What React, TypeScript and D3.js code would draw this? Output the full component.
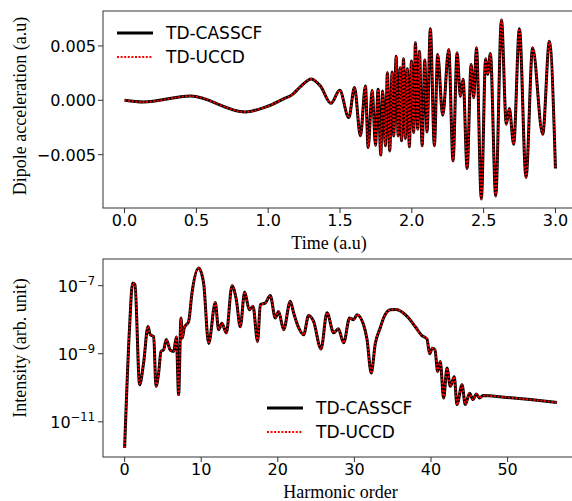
import React from 'react';
import * as d3 from 'd3';

// upper panel: dipole acceleration vs time
const timeAu = [0, 0.13, 0.46, 0.84, 0.99, 1.10, 1.17, 1.225, 1.30, 1.364, 1.437, 1.498, 1.561, 1.601, 1.642, 1.677, 1.696, 1.724, 1.747, 1.765, 1.784, 1.797, 1.816, 1.830, 1.846, 1.863, 1.874, 1.891, 1.905, 1.919, 1.928, 1.942, 1.955, 1.969, 1.983, 1.997, 2.013, 2.025, 2.041, 2.053, 2.072, 2.090, 2.106, 2.129, 2.157, 2.180, 2.215, 2.257, 2.287, 2.315, 2.338, 2.357, 2.385, 2.413, 2.431, 2.450, 2.484, 2.514, 2.528, 2.547, 2.584, 2.624, 2.658, 2.679, 2.709, 2.749, 2.795, 2.841, 2.911, 2.958, 3.0];
const casscfDipole = [0, -0.00016, 0.00039, -0.00107, -0.00058, 0.00009, 0.00055, 0.00126, 0.00197, 0.00131, -0.00028, 0.00092, -0.00159, 0.00117, -0.00326, 0.00131, -0.00434, 0.00092, -0.00413, 0.00101, -0.00502, 0.00085, -0.00419, 0.00254, -0.00465, 0.0026, -0.00328, 0.00406, -0.00328, 0.003, -0.00373, 0.00383, -0.00351, 0.00291, -0.00428, 0.00361, -0.00296, 0.00529, -0.00266, 0.00452, -0.00419, 0.0037, -0.00291, 0.00658, -0.00417, 0.00422, -0.00138, 0.00468, -0.00557, 0.00438, 0.00034, 0.00193, -0.00627, 0.0033, 0.00025, 0.00483, -0.00908, 0.00383, 0.00239, 0.00431, -0.0088, 0.00739, -0.0022, -0.00076, -0.00404, 0.00658, -0.00709, 0.00483, -0.00312, 0.00544, -0.00627];
// the two methods lie on top of each other in the figure
const uccdDipole = [...casscfDipole];

// lower panel: HHG spectrum
const harmonicOrder = [0, 0.65, 1.04, 1.35, 1.96, 2.48, 3.05, 3.35, 3.79, 4.1, 4.44, 4.75, 5.09, 5.44, 5.97, 6.4, 6.75, 7.05, 7.36, 7.53, 7.79, 8.36, 8.8, 9.66, 10.31, 10.97, 11.84, 12.27, 12.7, 13.28, 14.02, 14.58, 15.1, 15.67, 16.28, 16.76, 17.36, 17.72, 18.37, 19.02, 19.67, 20.1, 20.76, 21.63, 22.06, 22.72, 23.37, 24.02, 24.67, 25.64, 26.42, 27.3, 27.9, 28.6, 29.37, 29.9, 30.34, 31.2, 31.65, 32.2, 32.73, 33.38, 33.81, 34.69, 35.47, 36.34, 37.08, 37.95, 38.82, 39.48, 39.82, 40.17, 40.52, 40.87, 41.21, 41.65, 42.09, 42.52, 43.04, 43.39, 44.05, 44.48, 45.04, 45.48, 45.91, 46.35, 46.79, 49.92, 52.96, 56.45];
const casscfIntensity = [1.7e-12, 6.3e-9, 1.2e-7, 1.07e-7, 1.23e-10, 5.4e-10, 6.3e-9, 3.6e-9, 3.2e-9, 1.1e-10, 2.7e-10, 1.17e-9, 1.3e-9, 2.6e-9, 1.26e-9, 1.17e-9, 3.1e-9, 6.3e-11, 1.12e-8, 2.9e-9, 5.8e-9, 8.9e-9, 6.2e-8, 3.3e-7, 1.2e-7, 2.0e-9, 3.2e-8, 5.1e-9, 7.9e-9, 4.1e-9, 1.0e-7, 3.9e-8, 6.2e-9, 6.5e-8, 1.95e-8, 2.5e-8, 2.3e-9, 2.75e-8, 3.1e-8, 5.1e-8, 1.12e-8, 1.74e-8, 5.1e-9, 3.5e-8, 1.6e-8, 5.8e-9, 3.6e-9, 1.32e-8, 8.9e-9, 1.38e-9, 1.6e-8, 4.1e-9, 5.4e-9, 2.1e-9, 1.12e-8, 1.0e-8, 1.4e-8, 7.1e-9, 2.6e-9, 2.7e-10, 2.0e-9, 5.8e-9, 1.12e-8, 1.95e-8, 2.0e-8, 1.6e-8, 1.12e-8, 6.2e-9, 3.4e-9, 2.7e-9, 1.0e-9, 1.45e-9, 1.3e-9, 3.0e-10, 5.9e-10, 5.0e-11, 3.8e-10, 1.1e-10, 2.1e-10, 3.2e-11, 1.23e-10, 3.2e-11, 6.9e-11, 4.5e-11, 6.6e-11, 5.0e-11, 5.9e-11, 5.2e-11, 4.5e-11, 3.7e-11];
const uccdIntensity = [...casscfIntensity];

const timeTicks = [0, 0.5, 1.0, 1.5, 2.0, 2.5, 3.0];
const dipoleTicks = [-0.005, 0, 0.005];
const harmonicTicks = [0, 10, 20, 30, 40, 50];
const intensityExponents = [-7, -9, -11];
const seriesNames = ['TD-CASSCF', 'TD-UCCD'];

const SANS = 'DejaVu Sans, sans-serif';
const SERIF = 'Liberation Serif, Times New Roman, serif';

// matplotlib-style 5% margin
const pad = ([a, b]: number[], f = 0.05) => [a - (b - a) * f, b + (b - a) * f];
const padLog = ([a, b]: number[], f = 0.05) => {
  const la = Math.log10(a), lb = Math.log10(b);
  const m = (lb - la) * f;
  return [Math.pow(10, la - m), Math.pow(10, lb + m)];
};
const minus = (s: string) => s.replace('-', '\u2212');

export default function App() {
  // upper axes box
  const t = { l: 103, r: 577, top: 11, b: 208 };
  const x1 = d3.scaleLinear().domain(pad(d3.extent(timeAu) as number[])).range([t.l, t.r]);
  const y1 = d3.scaleLinear().domain(pad(d3.extent(casscfDipole) as number[])).range([t.b, t.top]);

  // lower axes box
  const bx = { l: 103, r: 578.6, top: 259, b: 457 };
  const x2 = d3.scaleLinear().domain(pad(d3.extent(harmonicOrder) as number[])).range([bx.l, bx.r]);
  const y2 = d3.scaleLog().domain(padLog(d3.extent(casscfIntensity) as number[])).range([bx.b, bx.top]);

  const line1 = d3.line<number>().x((_, i) => x1(timeAu[i])).y(d => y1(d)).curve(d3.curveMonotoneX);
  const line2 = d3.line<number>().x((_, i) => x2(harmonicOrder[i])).y(d => y2(d)).curve(d3.curveMonotoneX);

  const legend = (lx: number, ly: number) => (
    <g>
      <line x1={lx} x2={lx + 36} y1={ly} y2={ly} stroke="#000" strokeWidth={3} />
      <text x={lx + 49} y={ly + 6} fontFamily={SANS} fontSize={17}>{seriesNames[0]}</text>
      <line x1={lx} x2={lx + 36} y1={ly + 24} y2={ly + 24} stroke="red" strokeWidth={1.8} strokeDasharray="2,1.6" />
      <text x={lx + 49} y={ly + 30} fontFamily={SANS} fontSize={17}>{seriesNames[1]}</text>
    </g>
  );

  return (
    <svg width={572} height={501} style={{ position: 'absolute', left: 0, top: 0, background: '#fff' }}>
      <rect width={572} height={501} fill="#fff" />

      {/* ---- top panel ---- */}
      <path d={line1(casscfDipole) || ''} fill="none" stroke="#000" strokeWidth={3} strokeLinejoin="round" />
      <path d={line1(uccdDipole) || ''} fill="none" stroke="red" strokeWidth={1.8} strokeDasharray="2,1.6" />
      <rect x={t.l} y={t.top} width={t.r - t.l} height={t.b - t.top} fill="none" stroke="#333" strokeWidth={1} />
      {timeTicks.map(v => (
        <g key={v}>
          <line x1={x1(v)} x2={x1(v)} y1={t.b} y2={t.b + 5} stroke="#333" />
          <text x={x1(v)} y={t.b + 18} textAnchor="middle" fontFamily={SANS} fontSize={16}>{v.toFixed(1)}</text>
        </g>
      ))}
      {dipoleTicks.map(v => (
        <g key={v}>
          <line x1={t.l - 5} x2={t.l} y1={y1(v)} y2={y1(v)} stroke="#333" />
          <text x={t.l - 7} y={y1(v) + 6} textAnchor="end" fontFamily={SANS} fontSize={16}>{minus(v.toFixed(3))}</text>
        </g>
      ))}
      <text x={(t.l + 555) / 2} y={t.b + 41} textAnchor="middle" fontFamily={SERIF} fontSize={18}>Time (a.u)</text>
      <text transform={`translate(26,106) rotate(-90)`} textAnchor="middle" fontFamily={SERIF} fontSize={18}>Dipole acceleration (a.u)</text>
      {legend(117, 33)}

      {/* ---- bottom panel ---- */}
      <path d={line2(casscfIntensity) || ''} fill="none" stroke="#000" strokeWidth={3} strokeLinejoin="round" />
      <path d={line2(uccdIntensity) || ''} fill="none" stroke="red" strokeWidth={1.8} strokeDasharray="2,1.6" />
      <rect x={bx.l} y={bx.top} width={bx.r - bx.l} height={bx.b - bx.top} fill="none" stroke="#333" strokeWidth={1} />
      {harmonicTicks.map(v => (
        <g key={v}>
          <line x1={x2(v)} x2={x2(v)} y1={bx.b} y2={bx.b + 5} stroke="#333" />
          <text x={x2(v)} y={bx.b + 18} textAnchor="middle" fontFamily={SANS} fontSize={16}>{v}</text>
        </g>
      ))}
      {intensityExponents.map(e => (
        <g key={e}>
          <line x1={bx.l - 5} x2={bx.l} y1={y2(Math.pow(10, e))} y2={y2(Math.pow(10, e))} stroke="#333" />
          <text x={bx.l - 8} y={y2(Math.pow(10, e)) + 6} textAnchor="end" fontFamily={SANS} fontSize={16}>
            10<tspan dy={-7} fontSize={11.5}>{minus(String(e))}</tspan>
          </text>
        </g>
      ))}
      <text x={(bx.l + 578) / 2} y={bx.b + 41} textAnchor="middle" fontFamily={SERIF} fontSize={18}>Harmonic order</text>
      <text transform={`translate(26,348) rotate(-90)`} textAnchor="middle" fontFamily={SERIF} fontSize={18}>Intensity (arb. unit)</text>
      {legend(267, 408)}
    </svg>
  );
}
